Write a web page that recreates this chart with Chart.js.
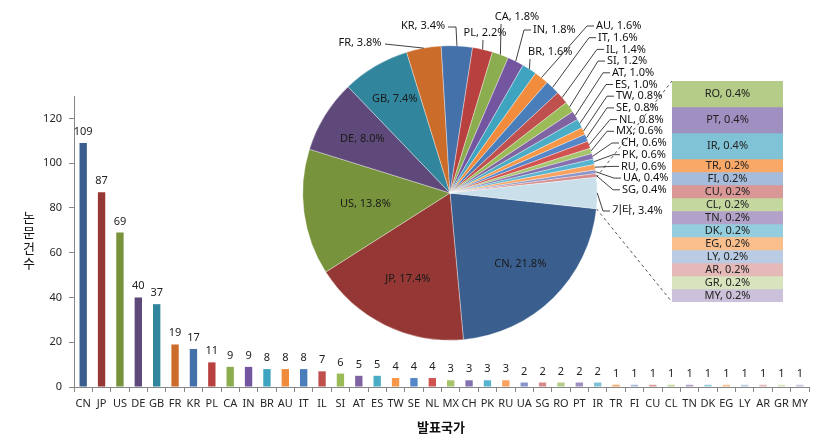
<!DOCTYPE html>
<html><head><meta charset="utf-8">
<script src="https://cdn.jsdelivr.net/npm/chart.js@4"></script>
<style>
html,body{margin:0;padding:0;background:#fff;}
#wrap{position:relative;width:824px;height:440px;overflow:hidden;}
canvas{position:absolute;left:0;top:0;}
</style></head><body>
<div id="wrap">
<canvas id="bar" width="824" height="440"></canvas>
<canvas id="stack" width="824" height="440"></canvas>
<canvas id="pie" width="824" height="440"></canvas>
</div>
<script>
// ---------- data ----------
const categories = ['CN','JP','US','DE','GB','FR','KR','PL','CA','IN','BR','AU','IT','IL','SI','AT','ES','TW','SE','NL','MX','CH','PK','RU','UA','SG','RO','PT','IR','TR','FI','CU','CL','TN','DK','EG','LY','AR','GR','MY'];
const paperCounts = [109,87,69,40,37,19,17,11,9,9,8,8,8,7,6,5,5,4,4,4,3,3,3,3,2,2,2,2,2,1,1,1,1,1,1,1,1,1,1,1];
const yTickValues = [0,20,40,60,80,100,120];
const otherGroup = ['RO','PT','IR','TR','FI','CU','CL','TN','DK','EG','LY','AR','GR','MY'];
const otherLabel = '기타';
const yAxisTitle = '논문건수';
const xAxisTitle = '발표국가';
const pointColors = ['#3A5F8E','#953735','#77933C','#5F497A','#31859C','#CC6C2A','#4571AA','#B8413F','#8CAD4F','#7456A0','#3FA4C0','#F08C3C','#4A7EBB','#C0504D','#9BBB59','#8064A2','#4BACC6','#F79646','#5587C8','#D2524F','#A6C46C','#8470AE','#56B4D0','#F9A15E','#8896CC','#D68B8A','#B5CB88','#A08FC1','#80C2D6','#FAA868','#A6BCDC','#D99795','#C3D79E','#B2A1C8','#94CDDE','#FBBF8E','#B9CCE4','#E5B9B8','#D7E4BD','#CCC1DA'];
const otherColor = '#C9DFEA';

// ---------- derived ----------
const FONT = "'Noto Sans','Noto Sans CJK KR',sans-serif";
const KFONT = "'Noto Sans CJK KR','Noto Sans',sans-serif";
const total = paperCounts.reduce((a,b)=>a+b,0);
const pct = v => (v/total*100).toFixed(1) + '%';
const countOf = c => paperCounts[categories.indexOf(c)];
const colorOf = c => pointColors[categories.indexOf(c)];
const mainCats = categories.filter(c => !otherGroup.includes(c));
const otherTotal = otherGroup.reduce((s,c)=>s+countOf(c),0);
const pieLabels = mainCats.concat([otherLabel]);
const pieValues = mainCats.map(countOf).concat([otherTotal]);
const pieColors = mainCats.map(colorOf).concat([otherColor]);
const pieRotation = 90 + (otherTotal/total)*180;

// label layout (text placement only)
const insideLabelRadius = {CN:0.68, JP:0.65, US:0.58, DE:0.70, GB:0.74};
const outsideLabels = {
  FR:{x:360,y:43,align:'center',path:[[385,44]]},
  KR:{x:423,y:26,align:'center',path:[[448,27],[456,27]]},
  PL:{x:485,y:33,align:'center',path:[[483,40]]},
  CA:{x:517,y:17,align:'center',path:[[501,24]]},
  IN:{x:533,y:30,align:'left',path:[[531,30],[524,30]]},
  BR:{x:528,y:52,align:'left',path:[[530,59]]}
};
const rightLabelCats = ['AU','IT','IL','SI','AT','ES','TW','SE','NL','MX','CH','PK','RU','UA','SG'];
const rightLabelX = [596,598,606,607,612,615,616,616,619,616,621,622,621,623,622];
rightLabelCats.forEach((c,k)=>{
  const x = rightLabelX[k], y = 26 + k*11.7;
  outsideLabels[c] = {x, y, align:'left', path:[[x-2,y],[x-9,y]]};
});
outsideLabels[otherLabel] = {x:612,y:211,align:'left',path:[[610,211],[603,211]]};

// ---------- bar chart ----------
const barLabelPlugin = {
  id:'barLabels',
  afterDatasetsDraw(chart){
    const ctx = chart.ctx;
    const meta = chart.getDatasetMeta(0);
    ctx.save();
    ctx.font = '11px ' + FONT;
    ctx.fillStyle = '#222';
    ctx.textAlign = 'center';
    ctx.textBaseline = 'alphabetic';
    meta.data.forEach((el,i)=>{
      ctx.fillText(String(paperCounts[i]), el.x, el.y - 8);
    });
    ctx.restore();
  },
  afterDraw(chart){
    const ctx = chart.ctx;
    ctx.save();
    ctx.setTransform(1,0,0,1,0,0);
    ctx.fillStyle = '#111';
    ctx.textAlign = 'center';
    ctx.textBaseline = 'middle';
    ctx.font = '13px ' + KFONT;
    const chars = Array.from(yAxisTitle);
    const step = 15.5, midY = 240;
    chars.forEach((ch,i)=>{
      ctx.fillText(ch, 29, midY + (i - (chars.length-1)/2)*step);
    });
    ctx.font = 'bold 13px ' + KFONT;
    ctx.fillText(xAxisTitle, 441, 427);
    ctx.restore();
  }
};

new Chart(document.getElementById('bar'), {
  type:'bar',
  data:{labels:categories, datasets:[{data:paperCounts, backgroundColor:pointColors, barPercentage:0.4, categoryPercentage:1, borderWidth:0}]},
  options:{
    responsive:false, animation:false, devicePixelRatio:1,
    layout:{padding:{left:0,right:15,top:96,bottom:0}},
    plugins:{legend:{display:false}, tooltip:{enabled:false}},
    scales:{
      x:{
        grid:{display:true, drawOnChartArea:false, drawTicks:true, tickLength:5, color:'#868686', offset:true},
        border:{display:true, color:'#868686'},
        ticks:{color:'#262626', font:{family:FONT,size:11}, padding:5, maxRotation:0, minRotation:0, autoSkip:false},
        afterFit(s){ s.height = 53; }
      },
      y:{
        min:0, max:130,
        afterBuildTicks(s){ s.ticks = yTickValues.map(v=>({value:v})); },
        grid:{display:true, drawOnChartArea:false, drawTicks:true, tickLength:5, color:'#868686'},
        border:{display:true, color:'#868686'},
        ticks:{color:'#262626', font:{family:FONT,size:11}, padding:7},
        afterFit(s){ s.width = 74; }
      }
    }
  },
  plugins:[barLabelPlugin]
});

// ---------- pie chart ----------
const pieLabelPlugin = {
  id:'pieLabels',
  afterDatasetsDraw(chart){
    const ctx = chart.ctx;
    const arcs = chart.getDatasetMeta(0).data;
    ctx.save();
    ctx.font = '11px ' + FONT;
    ctx.textBaseline = 'middle';
    arcs.forEach((arc,i)=>{
      const p = arc.getProps(['x','y','startAngle','endAngle','outerRadius'], true);
      const mid = (p.startAngle + p.endAngle)/2;
      const name = pieLabels[i];
      const text = name + ', ' + pct(pieValues[i]);
      if (insideLabelRadius[name] !== undefined) {
        const rr = p.outerRadius * insideLabelRadius[name];
        ctx.fillStyle = '#1a1a1a';
        ctx.textAlign = 'center';
        ctx.fillText(text, p.x + rr*Math.cos(mid), p.y + rr*Math.sin(mid));
        return;
      }
      const L = outsideLabels[name];
      if (!L) return;
      const ex = p.x + p.outerRadius*Math.cos(mid);
      const ey = p.y + p.outerRadius*Math.sin(mid);
      ctx.strokeStyle = '#111';
      ctx.lineWidth = 0.8;
      ctx.beginPath();
      L.path.forEach((pt,j)=>{ if(j===0) ctx.moveTo(pt[0],pt[1]); else ctx.lineTo(pt[0],pt[1]); });
      ctx.lineTo(ex, ey);
      ctx.stroke();
      ctx.fillStyle = '#111';
      ctx.textAlign = L.align;
      ctx.fillText(text, L.x, L.y);
    });
    ctx.restore();
  }
};

const pieChart = new Chart(document.getElementById('pie'), {
  type:'pie',
  data:{labels:pieLabels, datasets:[{data:pieValues, backgroundColor:pieColors, borderColor:'rgba(255,255,255,0.7)', borderWidth:0.5}]},
  options:{
    responsive:false, animation:false, devicePixelRatio:1,
    rotation: pieRotation,
    layout:{padding:{left:302.5,right:226.5,top:45.5,bottom:99.5}},
    plugins:{legend:{display:false}, tooltip:{enabled:false}}
  },
  plugins:[pieLabelPlugin]
});

// ---------- "other" stacked bar ----------
const stackPlugin = {
  id:'stackLabels',
  beforeDatasetsDraw(chart){
    const ctx = chart.ctx;
    const ca = chart.chartArea;
    const arcs = pieChart.getDatasetMeta(0).data;
    const p = arcs[arcs.length-1].getProps(['x','y','startAngle','endAngle','outerRadius'], true);
    ctx.save();
    ctx.strokeStyle = '#404040';
    ctx.lineWidth = 0.9;
    ctx.setLineDash([3,3]);
    ctx.beginPath();
    ctx.moveTo(p.x + p.outerRadius*Math.cos(p.startAngle), p.y + p.outerRadius*Math.sin(p.startAngle));
    ctx.lineTo(ca.left, ca.top);
    ctx.moveTo(p.x + p.outerRadius*Math.cos(p.endAngle), p.y + p.outerRadius*Math.sin(p.endAngle));
    ctx.lineTo(ca.left, ca.bottom);
    ctx.stroke();
    ctx.restore();
  },
  afterDatasetsDraw(chart){
    const ctx = chart.ctx;
    ctx.save();
    ctx.font = '11px ' + FONT;
    ctx.fillStyle = '#222';
    ctx.textAlign = 'center';
    ctx.textBaseline = 'middle';
    otherGroup.forEach((c,i)=>{
      const el = chart.getDatasetMeta(i).data[0];
      ctx.fillText(c + ', ' + pct(countOf(c)), el.x, (el.y + el.base)/2);
    });
    ctx.restore();
  }
};

new Chart(document.getElementById('stack'), {
  type:'bar',
  data:{labels:[otherLabel], datasets: otherGroup.map(c=>({label:c, data:[countOf(c)], backgroundColor:colorOf(c), barPercentage:1, categoryPercentage:1, borderWidth:0}))},
  options:{
    responsive:false, animation:false, devicePixelRatio:1,
    layout:{padding:{left:672,right:41,top:81,bottom:138}},
    plugins:{legend:{display:false}, tooltip:{enabled:false}},
    scales:{
      x:{display:false, stacked:true},
      y:{display:false, stacked:true, min:0, max:otherTotal, reverse:true}
    }
  },
  plugins:[stackPlugin]
});
</script>
</body></html>
